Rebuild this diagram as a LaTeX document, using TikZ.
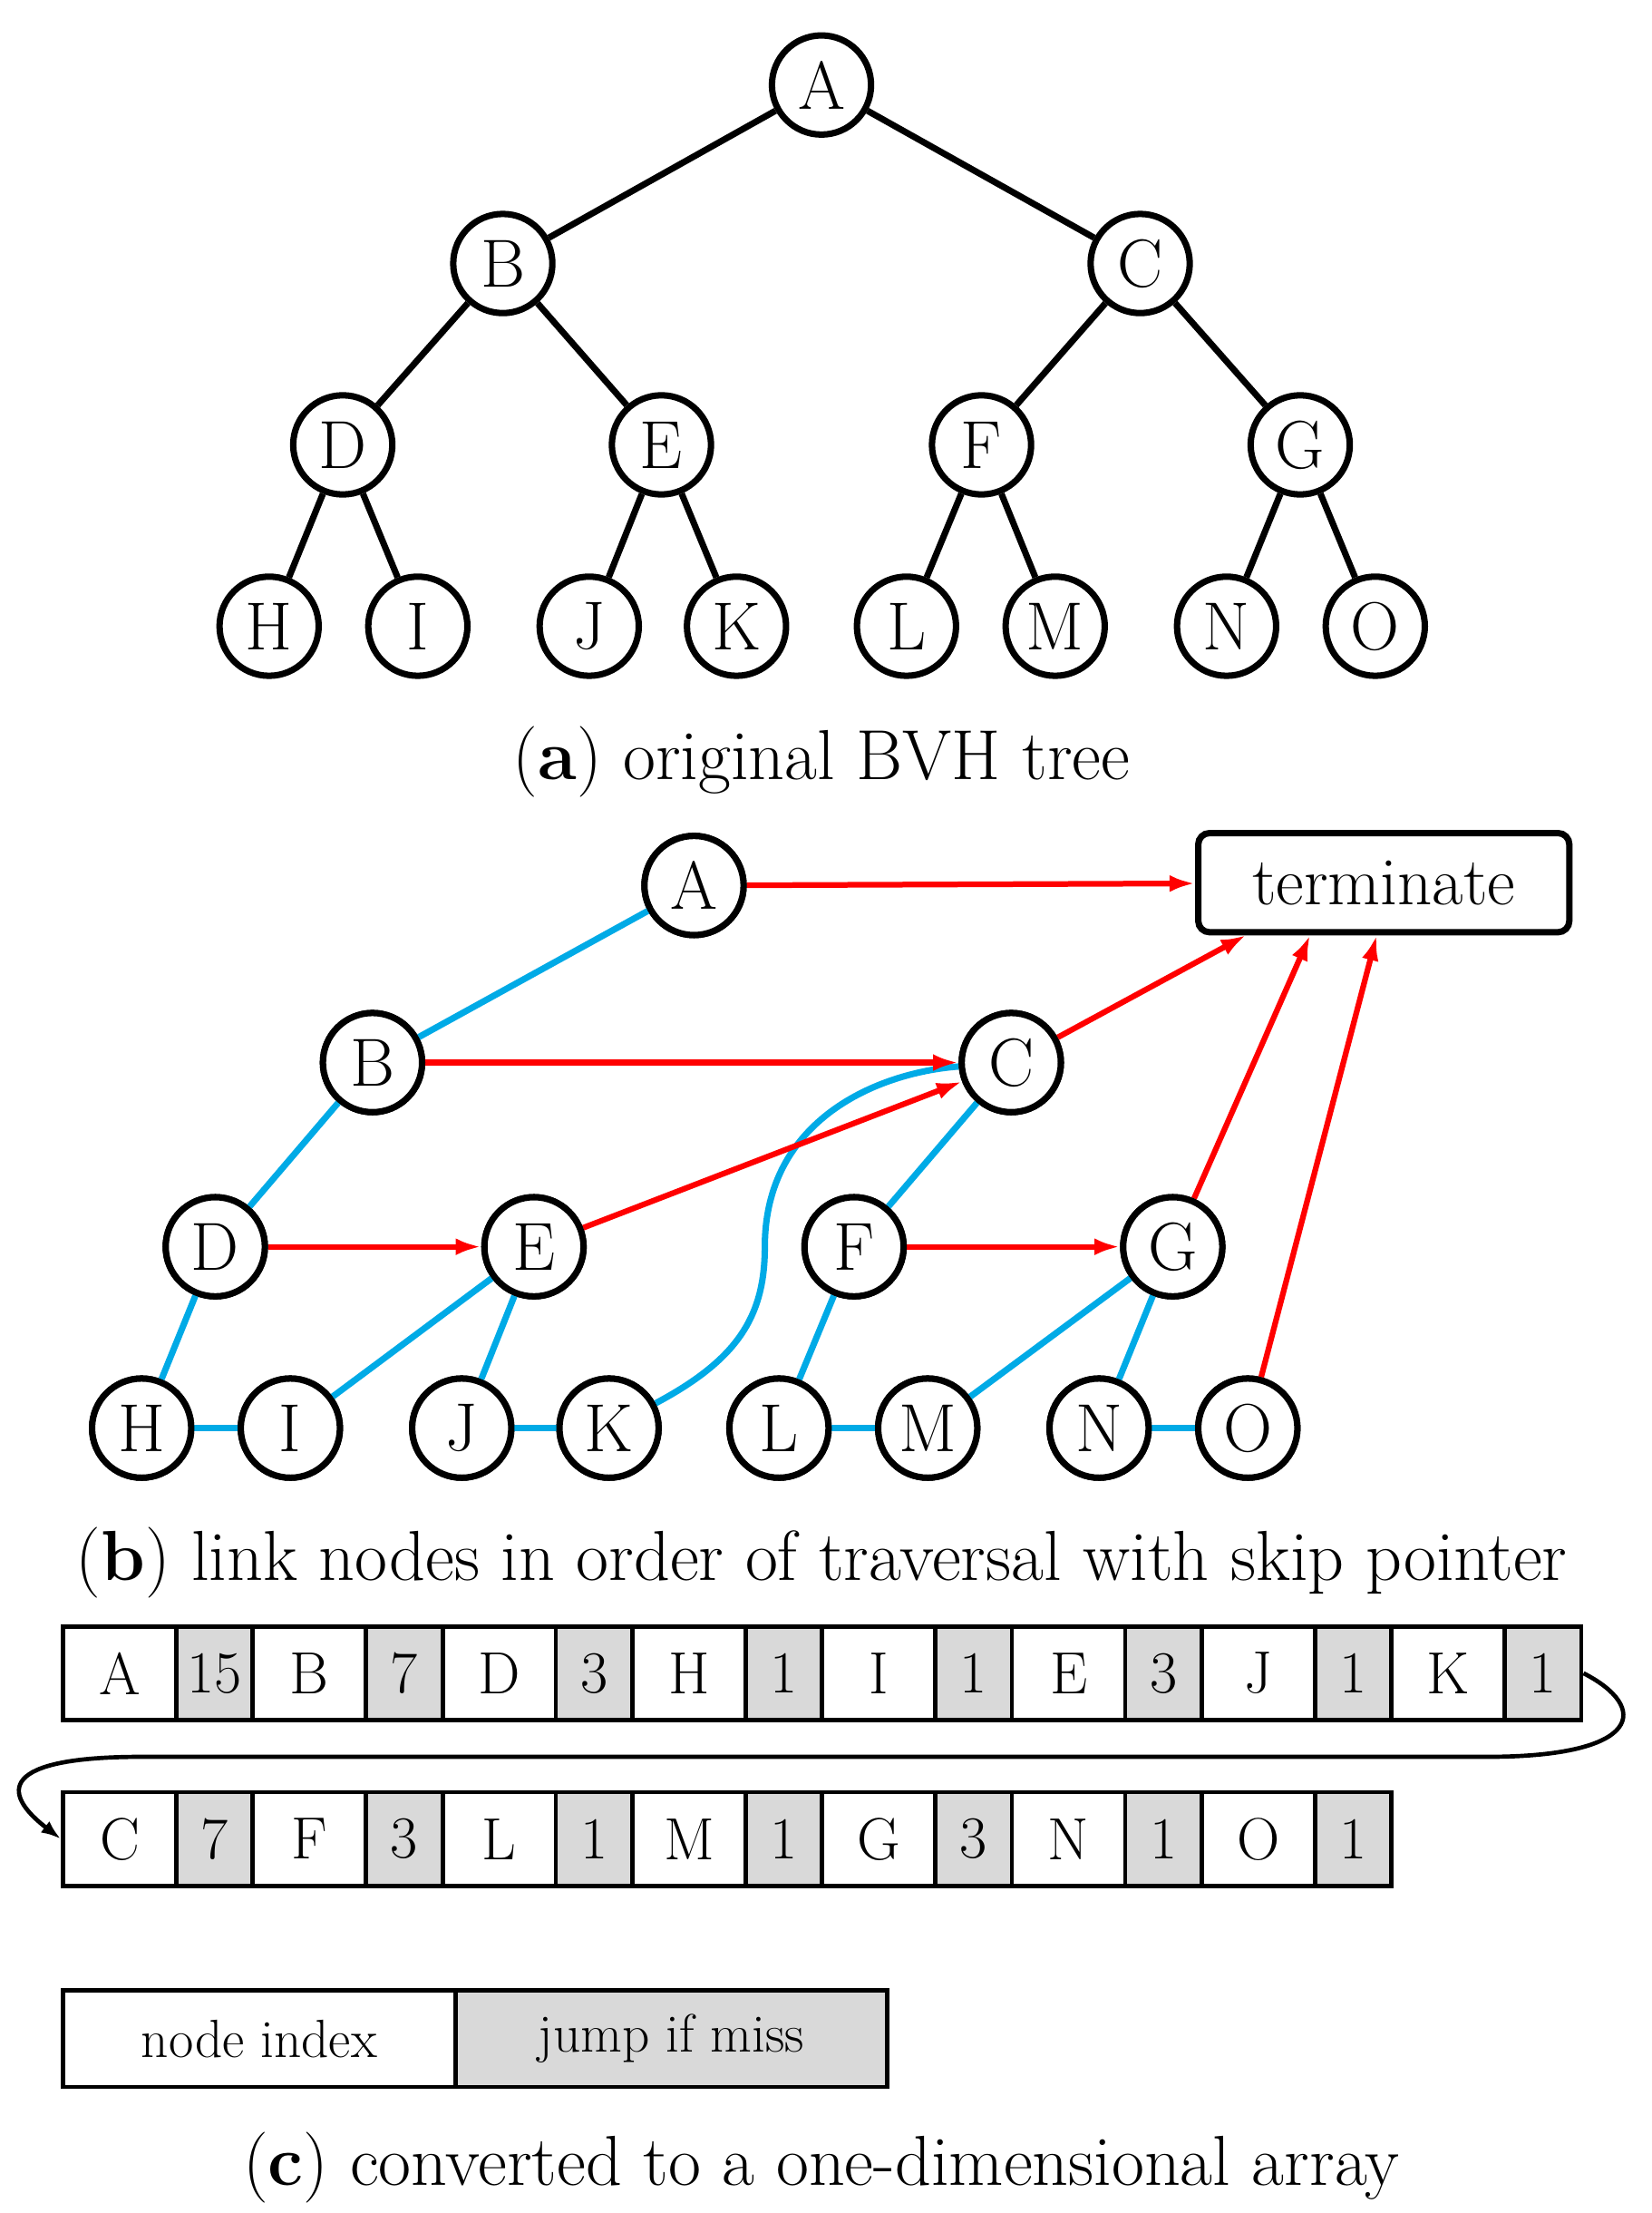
\documentclass[tikz,border=0pt]{standalone}
\usetikzlibrary{arrows.meta}
\begin{document}
\begin{tikzpicture}[x=1pt,y=-1pt,
  tn/.style={circle,draw,line width=4.5pt,minimum size=70pt,inner sep=0pt,font=\fontsize{48}{56}\selectfont},
  te/.style={line width=4.5pt},
  bl/.style={line width=4.5pt,draw={rgb,255:red,0;green,170;blue,230}},
  rd/.style={line width=4pt,draw=red,-{Latex[length=18pt,width=12pt]}},
  capt/.style={font=\fontsize{50}{58}\selectfont},
  cw/.style={draw,line width=3pt,minimum width=80pt,minimum height=66pt,inner sep=0pt,anchor=west,font=\fontsize{42}{50}\selectfont},
  cg/.style={cw,fill=gray!30,minimum width=54pt}]
\useasboundingbox (0,0) rectangle (1166,1562);
% (a)
\foreach \n/\x/\y in {A/580/60,B/355/186,C/805/186,D/242/314,E/467/314,F/693/314,G/918/314,H/190/442,I/295/442,J/416/442,K/520/442,L/640/442,M/745/442,N/866/442,O/971/442}
  \node[tn] (a\n) at (\x,\y) {\n};
\foreach \p/\c in {A/B,A/C,B/D,B/E,C/F,C/G,D/H,D/I,E/J,E/K,F/L,F/M,G/N,G/O}
  \draw[te] (a\p) -- (a\c);
\node[capt] (ca) at (580,538) {(\textbf{a}) original BVH tree};
% (b)
\foreach \n/\x/\y in {A/490/625,B/263/750,C/714/750,D/152/880,E/377/880,F/603/880,G/828/880,H/100/1008,I/205/1008,J/326/1008,K/430/1008,L/550/1008,M/655/1008,N/776/1008,O/881/1008}
  \node[tn,fill=white] (b\n) at (\x,\y) {\n};
\node[draw,line width=4.5pt,rounded corners=8pt,minimum width=262pt,minimum height=70pt,font=\fontsize{48}{56}\selectfont] (term) at (977,623) {terminate};
\foreach \p/\c in {A/B,B/D,D/H,H/I,I/E,E/J,J/K,C/F,F/L,L/M,M/G,G/N,N/O}
  \draw[bl] (b\p) -- (b\c);
\draw[bl] (bK) .. controls (520,960) and (540,930) .. (540,880) .. controls (540,790) and (620,757) .. (bC);
\coordinate (t1) at (880,660);
\coordinate (t2) at (925,660);
\coordinate (t3) at (972,660);
\draw[rd] (bA) -- (term);
\draw[rd] (bB) -- (bC);
\draw[rd] (bC) -- (t1);
\draw[rd] (bD) -- (bE);
\draw[rd] (bE) -- (bC);
\draw[rd] (bF) -- (bG);
\draw[rd] (bG) -- (t2);
\draw[rd] (bO) -- (t3);
\foreach \n/\x/\y in {A/490/625,B/263/750,C/714/750,D/152/880,E/377/880,F/603/880,G/828/880,H/100/1008,I/205/1008,J/326/1008,K/430/1008,L/550/1008,M/655/1008,N/776/1008,O/881/1008}
  \node[tn,fill=white] at (\x,\y) {\n};
\node[capt] (cb) at (580,1103) {(\textbf{b}) link nodes in order of traversal with skip pointer};
% (c)
\newcommand{\cellrow}[3]{%
  \foreach \w/\g [count=\i from 0] in {#3} {
    \pgfmathsetmacro{\xx}{#1+134*\i}
    \node[cw] (r#2w\i) at (\xx,#2) {\w};
    \node[cg] (r#2g\i) at (\xx+80,#2) {\g};
  }}
\cellrow{43}{1181}{A/15,B/7,D/3,H/1,I/1,E/3,J/1,K/1}
\cellrow{43}{1298}{C/7,F/3,L/1,M/1,G/3,N/1,O/1}
\draw[line width=3pt,-{Latex[length=14pt,width=10pt]}] (r1181g7.east) .. controls (1165,1205) and (1160,1240) .. (1050,1240) -- (100,1240) .. controls (0,1240) and (0,1265) .. (r1298w0.west);
\node[cw,minimum width=277pt,minimum height=68pt,font=\fontsize{38}{44}\selectfont] (li) at (43,1439) {node index};
\node[cw,fill=gray!30,minimum width=305pt,minimum height=68pt,font=\fontsize{38}{44}\selectfont] (lj) at (320,1439) {jump if miss};
\node[capt] (cc) at (580,1530) {(\textbf{c}) converted to a one-dimensional array};
\end{tikzpicture}
\end{document}
